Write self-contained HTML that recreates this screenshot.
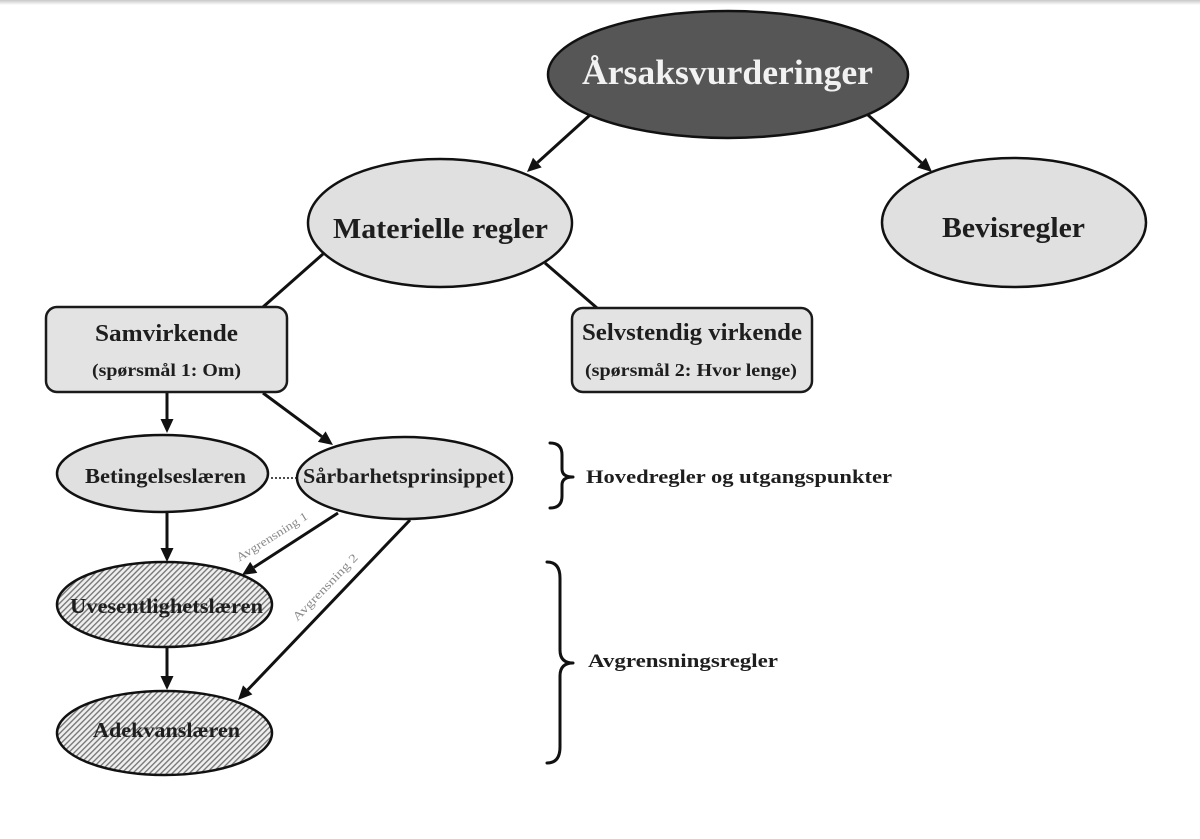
<!DOCTYPE html>
<html>
<head>
<meta charset="utf-8">
<style>
  html, body { margin: 0; padding: 0; background: #ffffff; }
  body { width: 1200px; height: 839px; overflow: hidden; }
  svg { display: block; }
  text { font-family: "Liberation Serif", "DejaVu Serif", serif; font-weight: bold; fill: #1e1e1e; }
</style>
</head>
<body>
<svg width="1200" height="839" viewBox="0 0 1200 839" xmlns="http://www.w3.org/2000/svg">
  <defs>
    <linearGradient id="topg" x1="0" y1="0" x2="0" y2="1">
      <stop offset="0" stop-color="#c8c8c8"/>
      <stop offset="1" stop-color="#ffffff"/>
    </linearGradient>
    <pattern id="hatch" width="4" height="4" patternUnits="userSpaceOnUse" patternTransform="rotate(45)">
      <rect width="4" height="4" fill="#efefef"/>
      <line x1="0.7" y1="0" x2="0.7" y2="4" stroke="#707070" stroke-width="1.3"/>
    </pattern>
  </defs>

  <rect x="0" y="0" width="1200" height="839" fill="#ffffff"/>
  <rect x="0" y="0" width="1200" height="5" fill="url(#topg)"/>

  <!-- connectors (lines) -->
  <g stroke="#111" stroke-width="3" fill="none" stroke-linecap="butt">
    <line x1="590" y1="115" x2="537.4" y2="162.6"/>
    <line x1="868" y1="115" x2="921.5" y2="162.7"/>
    <line x1="323" y1="254" x2="263" y2="307"/>
    <line x1="545" y1="263" x2="597" y2="308"/>
    <line x1="167" y1="392" x2="167" y2="420"/>
    <line x1="263" y1="393" x2="321.8" y2="436.6"/>
    <line x1="167" y1="512" x2="167" y2="549"/>
    <line x1="167" y1="647" x2="167" y2="676"/>
    <line x1="338" y1="513" x2="253.8" y2="567.4"/>
    <line x1="410" y1="520" x2="247.7" y2="689.9"/>
  </g>
  <line x1="271" y1="478" x2="299" y2="478" stroke="#111" stroke-width="1.6" stroke-dasharray="2,2"/>

  <!-- arrowheads -->
  <g fill="#111">
    <polygon points="527,172 541.7,167.4 533.0,157.8"/>
    <polygon points="932,172 925.9,157.8 917.2,167.5"/>
    <polygon points="167,433 173.5,419 160.5,419"/>
    <polygon points="333,445 325.6,431.4 317.9,441.9"/>
    <polygon points="167,562 173.5,548 160.5,548"/>
    <polygon points="167,690 173.5,676 160.5,676"/>
    <polygon points="242,575 257.3,572.9 250.2,561.9"/>
    <polygon points="238,700 252.4,694.4 243.0,685.4"/>
  </g>

  <!-- nodes -->
  <ellipse cx="728" cy="74.5" rx="180" ry="63.5" fill="#565656" stroke="#111" stroke-width="2.5"/>
  <ellipse cx="440" cy="223" rx="132" ry="64" fill="#e0e0e0" stroke="#111" stroke-width="2.5"/>
  <ellipse cx="1014" cy="222.5" rx="132" ry="64.5" fill="#e0e0e0" stroke="#111" stroke-width="2.5"/>

  <rect x="46" y="307" width="241" height="85" rx="11" ry="11" fill="#e3e3e3" stroke="#1a1a1a" stroke-width="2.5"/>
  <rect x="572" y="308" width="240" height="84" rx="11" ry="11" fill="#e3e3e3" stroke="#1a1a1a" stroke-width="2.5"/>

  <ellipse cx="162.5" cy="473.5" rx="105.5" ry="38.5" fill="#e0e0e0" stroke="#111" stroke-width="2.5"/>
  <ellipse cx="404.5" cy="478" rx="107.5" ry="41" fill="#e0e0e0" stroke="#111" stroke-width="2.5"/>

  <ellipse cx="164.5" cy="604.5" rx="107.5" ry="42.5" fill="url(#hatch)" stroke="#111" stroke-width="2.5"/>
  <ellipse cx="164.5" cy="733" rx="107.5" ry="42" fill="url(#hatch)" stroke="#111" stroke-width="2.5"/>

  <!-- braces -->
  <g stroke="#111" stroke-width="3" fill="none" stroke-linecap="round" stroke-linejoin="round">
    <path d="M 550 443 Q 562 443 562 455 L 562 469 Q 562 477 573 477 Q 562 477 562 485 L 562 496 Q 562 508 550 508"/>
    <path d="M 547 562 Q 560 562 560 578 L 560 650 Q 560 663 573 663 Q 560 663 560 676 L 560 747 Q 560 763 547 763"/>
  </g>

  <!-- labels -->
  <text x="582" y="84" font-size="35" textLength="291" lengthAdjust="spacingAndGlyphs" style="fill:#f2f2f2">Årsaksvurderinger</text>
  <text x="333" y="238" font-size="29" textLength="215" lengthAdjust="spacingAndGlyphs">Materielle regler</text>
  <text x="942" y="237" font-size="29" textLength="143" lengthAdjust="spacingAndGlyphs">Bevisregler</text>

  <text x="95" y="341" font-size="24" textLength="143" lengthAdjust="spacingAndGlyphs">Samvirkende</text>
  <text x="92" y="376" font-size="18" textLength="149" lengthAdjust="spacingAndGlyphs">(spørsmål 1: Om)</text>

  <text x="582" y="340" font-size="24" textLength="220" lengthAdjust="spacingAndGlyphs">Selvstendig virkende</text>
  <text x="585" y="376" font-size="18" textLength="212" lengthAdjust="spacingAndGlyphs">(spørsmål 2: Hvor lenge)</text>

  <text x="85" y="483" font-size="21" textLength="161" lengthAdjust="spacingAndGlyphs">Betingelseslæren</text>
  <text x="303" y="483" font-size="21" textLength="202" lengthAdjust="spacingAndGlyphs">Sårbarhetsprinsippet</text>
  <text x="70" y="613" font-size="21" textLength="193" lengthAdjust="spacingAndGlyphs">Uvesentlighetslæren</text>
  <text x="93" y="737" font-size="21" textLength="147" lengthAdjust="spacingAndGlyphs">Adekvanslæren</text>

  <text x="586" y="483" font-size="19" textLength="306" lengthAdjust="spacingAndGlyphs">Hovedregler og utgangspunkter</text>
  <text x="588" y="667" font-size="19" textLength="190" lengthAdjust="spacingAndGlyphs">Avgrensningsregler</text>

  <text x="0" y="0" font-size="12" text-anchor="middle" textLength="82" lengthAdjust="spacingAndGlyphs" style="fill:#8a8a8a;font-weight:normal" transform="translate(274,540) rotate(-32)">Avgrensning 1</text>
  <text x="0" y="0" font-size="12" text-anchor="middle" textLength="88" lengthAdjust="spacingAndGlyphs" style="fill:#8a8a8a;font-weight:normal" transform="translate(328,590) rotate(-46)">Avgrensning 2</text>
</svg>
</body>
</html>
